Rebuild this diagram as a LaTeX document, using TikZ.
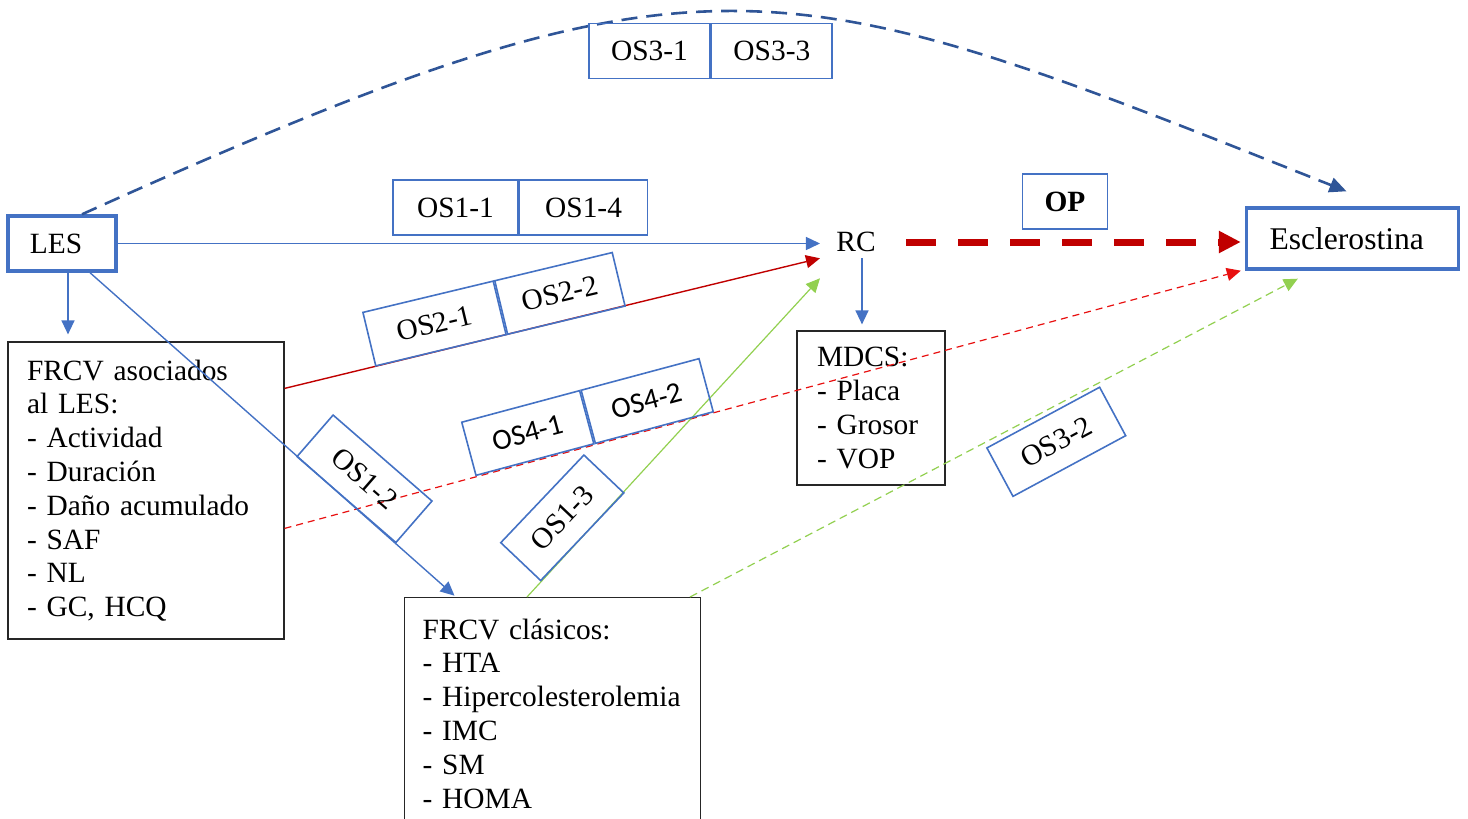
\documentclass[tikz,border=0pt]{standalone}
\usepackage{fontspec}
\setmainfont{Liberation Serif}
\newfontfamily\calibrifont{Carlito}
\usepackage{xcolor}
\usepackage{tikz}
\usetikzlibrary{positioning, arrows.meta}

\definecolor{wordblue}{HTML}{4472C4}
\definecolor{arcblue}{HTML}{2F5597}
\definecolor{darkred}{HTML}{C00000}
\definecolor{brightred}{HTML}{E81010}
\definecolor{lightgreen}{HTML}{92D050}
\newcommand{\diagsize}{\fontsize{14.7}{16.9}\selectfont}

\tikzset{
  osbox/.style={draw=wordblue, line width=0.8pt, inner xsep=11pt, inner ysep=0pt, minimum height=27.5pt},
  osfont/.style={font=\diagsize\calibrifont},
  mainbox/.style={draw=wordblue, line width=1.7pt, align=left, inner ysep=0pt},
  listbox/.style={draw=black!85, line width=0.6pt, align=left, inner ysep=0pt},
  tip/.style={-{Triangle[length=7pt,width=6.5pt]}},
  blueline/.style={draw=wordblue, line width=0.7pt, tip},
  redline/.style={draw=darkred, line width=0.7pt, tip},
  reddash/.style={draw=brightred, line width=0.6pt, dash pattern=on 3.5pt off 2.5pt, tip},
  greenline/.style={draw=lightgreen, line width=0.6pt, tip},
  greendash/.style={draw=lightgreen, line width=0.6pt, dash pattern=on 4pt off 2.5pt, tip},
  bigred/.style={draw=darkred, line width=3.5pt, dash pattern=on 15pt off 11pt, -{Triangle[length=11pt,width=10.5pt]}},
  arcdash/.style={draw=arcblue, line width=1.3pt, dash pattern=on 8pt off 4.5pt, -{Triangle[length=8.5pt,width=7.5pt]}}
}

\begin{document}
\begin{tikzpicture}[x=0.5pt, y=-0.5pt, font=\diagsize]
  \useasboundingbox (0,0) rectangle (1468,819);

  \node[mainbox, text width=32pt, inner xsep=11pt, minimum height=27.5pt] (les) at (62,243.5) {LES};
  \node[mainbox, text width=83pt, inner xsep=11.5pt, minimum height=30.5pt, font=\fontsize{15.8}{18}\selectfont] (escl) at (1352.5,238.5) {Esclerostina};
  \node[inner xsep=8pt, inner ysep=3pt] (rc) at (856,242) {RC};
  \node[osbox, font=\diagsize\bfseries] (op) at (1065,201.5) {OP};

  \node[listbox, text width=119pt, inner xsep=9.5pt, minimum height=148.5pt] (fa) at (146,490.5)
    {FRCV asociados\\al LES:\\- Actividad\\- Duración\\- Daño acumulado\\- SAF\\- NL\\- GC, HCQ};
  \node[listbox, anchor=north west, text width=130pt, inner xsep=9pt, minimum height=116pt] (fc) at (404,597)
    {FRCV clásicos:\\- HTA\\- Hipercolesterolemia\\- IMC\\- SM\\- HOMA};
  \node[listbox, text width=54pt, inner xsep=10pt, minimum height=77pt] (md) at (871,408)
    {MDCS:\\- Placa\\- Grosor\\- VOP};

  \draw[arcdash] ([xshift=10pt]les.north) .. controls (708.6,-68) and (775,-36) .. ([xshift=-3pt,yshift=7.5pt]escl.north);
  \draw[blueline] (les.east) -- (les.east -| rc.west);
  \draw[blueline, shorten >=3.5pt] ([xshift=3pt]les.south) -- ([xshift=3pt]les.south |- fa.north);
  \draw[blueline, shorten >=1pt] ([xshift=14pt]les.south) -- ([xshift=26pt]fc.north west);
  \draw[blueline, shorten >=3pt] ([xshift=3pt]rc.south) -- ([xshift=3pt]rc.south |- md.north);
  \draw[redline] ([yshift=-23.5pt]fa.north east) -- (rc.south west);
  \draw[reddash] ([yshift=-93.5pt]fa.north east) -- ([xshift=-2pt]escl.south west);
  \draw[greenline] ([xshift=61.5pt]fc.north west) -- ([yshift=-10pt]rc.south west);
  \draw[greendash] ([xshift=143pt]fc.north west) -- ([xshift=26.5pt,yshift=-4pt]escl.south west);
  \draw[bigred] ([xshift=7pt]rc.east) -- ([xshift=-2pt]rc.east -| escl.west);

  \node[osbox] (os31) at (649.5,51) {OS3-1};
  \node[osbox, right=0pt of os31] (os33) {OS3-3};
  \node[osbox, minimum width=62.5pt] (os11) at (455.5,207.5) {OS1-1};
  \node[osbox, minimum width=64pt, right=0pt of os11] (os14) {OS1-4};
  \node[osbox, rotate=13.5, minimum width=67pt] (os21) at (434.5,323.5) {OS2-1};
  \node[osbox, rotate=13.5, right=0pt of os21] (os22) {OS2-2};
  \node[osbox, osfont, rotate=15, minimum width=61pt] (os41) at (527.8,433) {OS4-1};
  \node[osbox, osfont, rotate=15, minimum width=61pt, right=0pt of os41] (os42) {OS4-2};
  \node[osbox, rotate=-41, minimum width=65.5pt] (os12) at (364.5,478.8) {OS1-2};
  \node[osbox, rotate=46.5] (os13) at (562.3,517.8) {OS1-3};
  \node[osbox, rotate=28.3, minimum width=64pt] (os32) at (1056.3,441.8) {OS3-2};
\end{tikzpicture}
\end{document}
